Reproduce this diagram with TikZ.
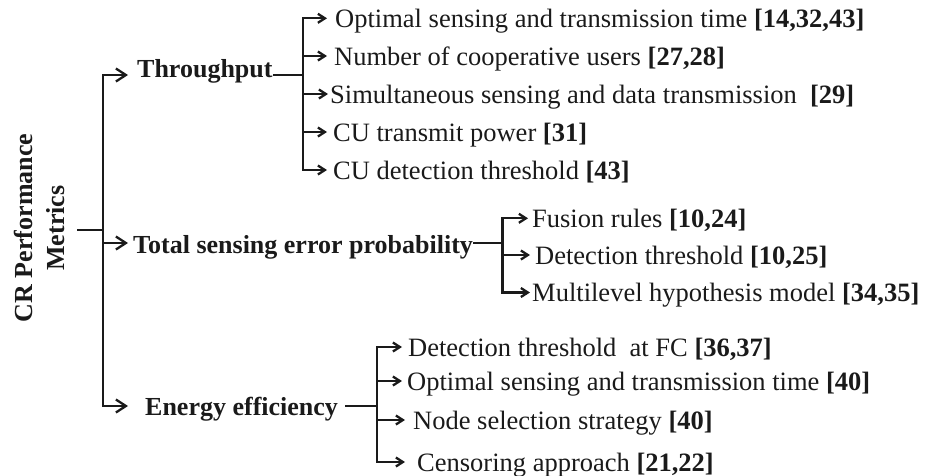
\documentclass[tikz,border=0pt]{standalone}
\usepackage{fontspec}
\setmainfont{Liberation Serif}
\usetikzlibrary{arrows.meta}
\definecolor{ink}{HTML}{1A1A1A}
\begin{document}
\begin{tikzpicture}[x=1pt,y=-1pt,
  conn/.style={draw=ink,line width=2.3pt},
  mainarr/.style={conn,-{Straight Barb[length=10pt,width=13pt]}},
  kidarr/.style={conn,-{Straight Barb[length=7pt,width=9pt]}},
  hdr/.style={text=ink,font=\fontsize{26}{30}\selectfont\bfseries,anchor=west,inner sep=0pt,text height=18pt,text depth=0pt},
  kid/.style={text=ink,font=\fontsize{26.5}{30}\selectfont,anchor=west,inner sep=0pt,text height=18pt,text depth=0pt},
  rootlbl/.style={text=ink,font=\fontsize{26}{32}\selectfont\bfseries,align=center,rotate=90,anchor=south,inner xsep=0pt,inner ysep=12pt}
]
\useasboundingbox (0,0) rectangle (931,475);

% root
\node[rootlbl] (root) at (77,228) {CR Performance\\Metrics};
\coordinate (jR) at (103,230);

% headers
\node[hdr,text depth=14pt] (thr) at (128,75) {\hspace{9pt}Throughput};
\node[hdr,text height=20pt] (tse) at (128,243) {\hspace{5pt}Total sensing error probability};
\node[hdr] (ene) at (128,406) {\hspace{17pt}Energy efficiency};

\coordinate (jT) at (303,75);
\coordinate (jS) at (502.5,243);
\coordinate (jE) at (377,406);

% throughput children
\node[kid] (t1) at (327,18.3) {\hspace{8pt}Optimal sensing and transmission time \textbf{[14,32,43]}};
\node[kid] (t2) at (327,56) {\hspace{7pt}Number of cooperative users \textbf{[27,28]}};
\node[kid] (t3) at (328,94) {\hspace{2pt}Simultaneous sensing and data transmission\ \ \textbf{[29]}};
\node[kid] (t4) at (327,132) {\hspace{6pt}CU transmit power \textbf{[31]}};
\node[kid] (t5) at (327,170) {\hspace{6pt}CU detection threshold \textbf{[43]}};

% total sensing error children
\node[kid] (s1) at (528,218.3) {\hspace{4pt}Fusion rules \textbf{[10,24]}};
\node[kid] (s2) at (530,255) {\hspace{5pt}Detection threshold \textbf{[10,25]}};
\node[kid] (s3) at (530,292.5) {\hspace{2pt}Multilevel hypothesis model \textbf{[34,35]}};

% energy children
\node[kid] (e1) at (402,347) {\hspace{6pt}Detection threshold\ \ at FC \textbf{[36,37]}};
\node[kid] (e2) at (402,381) {\hspace{5pt}Optimal sensing and transmission time \textbf{[40]}};
\node[kid] (e3) at (405,420) {\hspace{8pt}Node selection strategy \textbf{[40]}};
\node[kid] (e4) at (405,462) {\hspace{12pt}Censoring approach \textbf{[21,22]}};

% connectors
\draw[conn] (root.south |- jR) -- (jR);
\draw[mainarr] (jR) |- (thr.west);
\draw[mainarr] (jR) |- (tse.west);
\draw[mainarr] (jR) |- (ene.west);

\draw[conn] (thr.east) -- (jT);
\draw[conn] (tse.east) -- (jS);
\draw[conn,shorten <=7pt] (ene.east) -- (jE);

\foreach \k in {t1,t2,t3,t4,t5} \draw[kidarr] (jT) |- (\k.west);
\foreach \k in {s1,s2,s3} \draw[kidarr] (jS) |- (\k.west);
\foreach \k in {e1,e2,e3,e4} \draw[kidarr] (jE) |- (\k.west);
\end{tikzpicture}
\end{document}
